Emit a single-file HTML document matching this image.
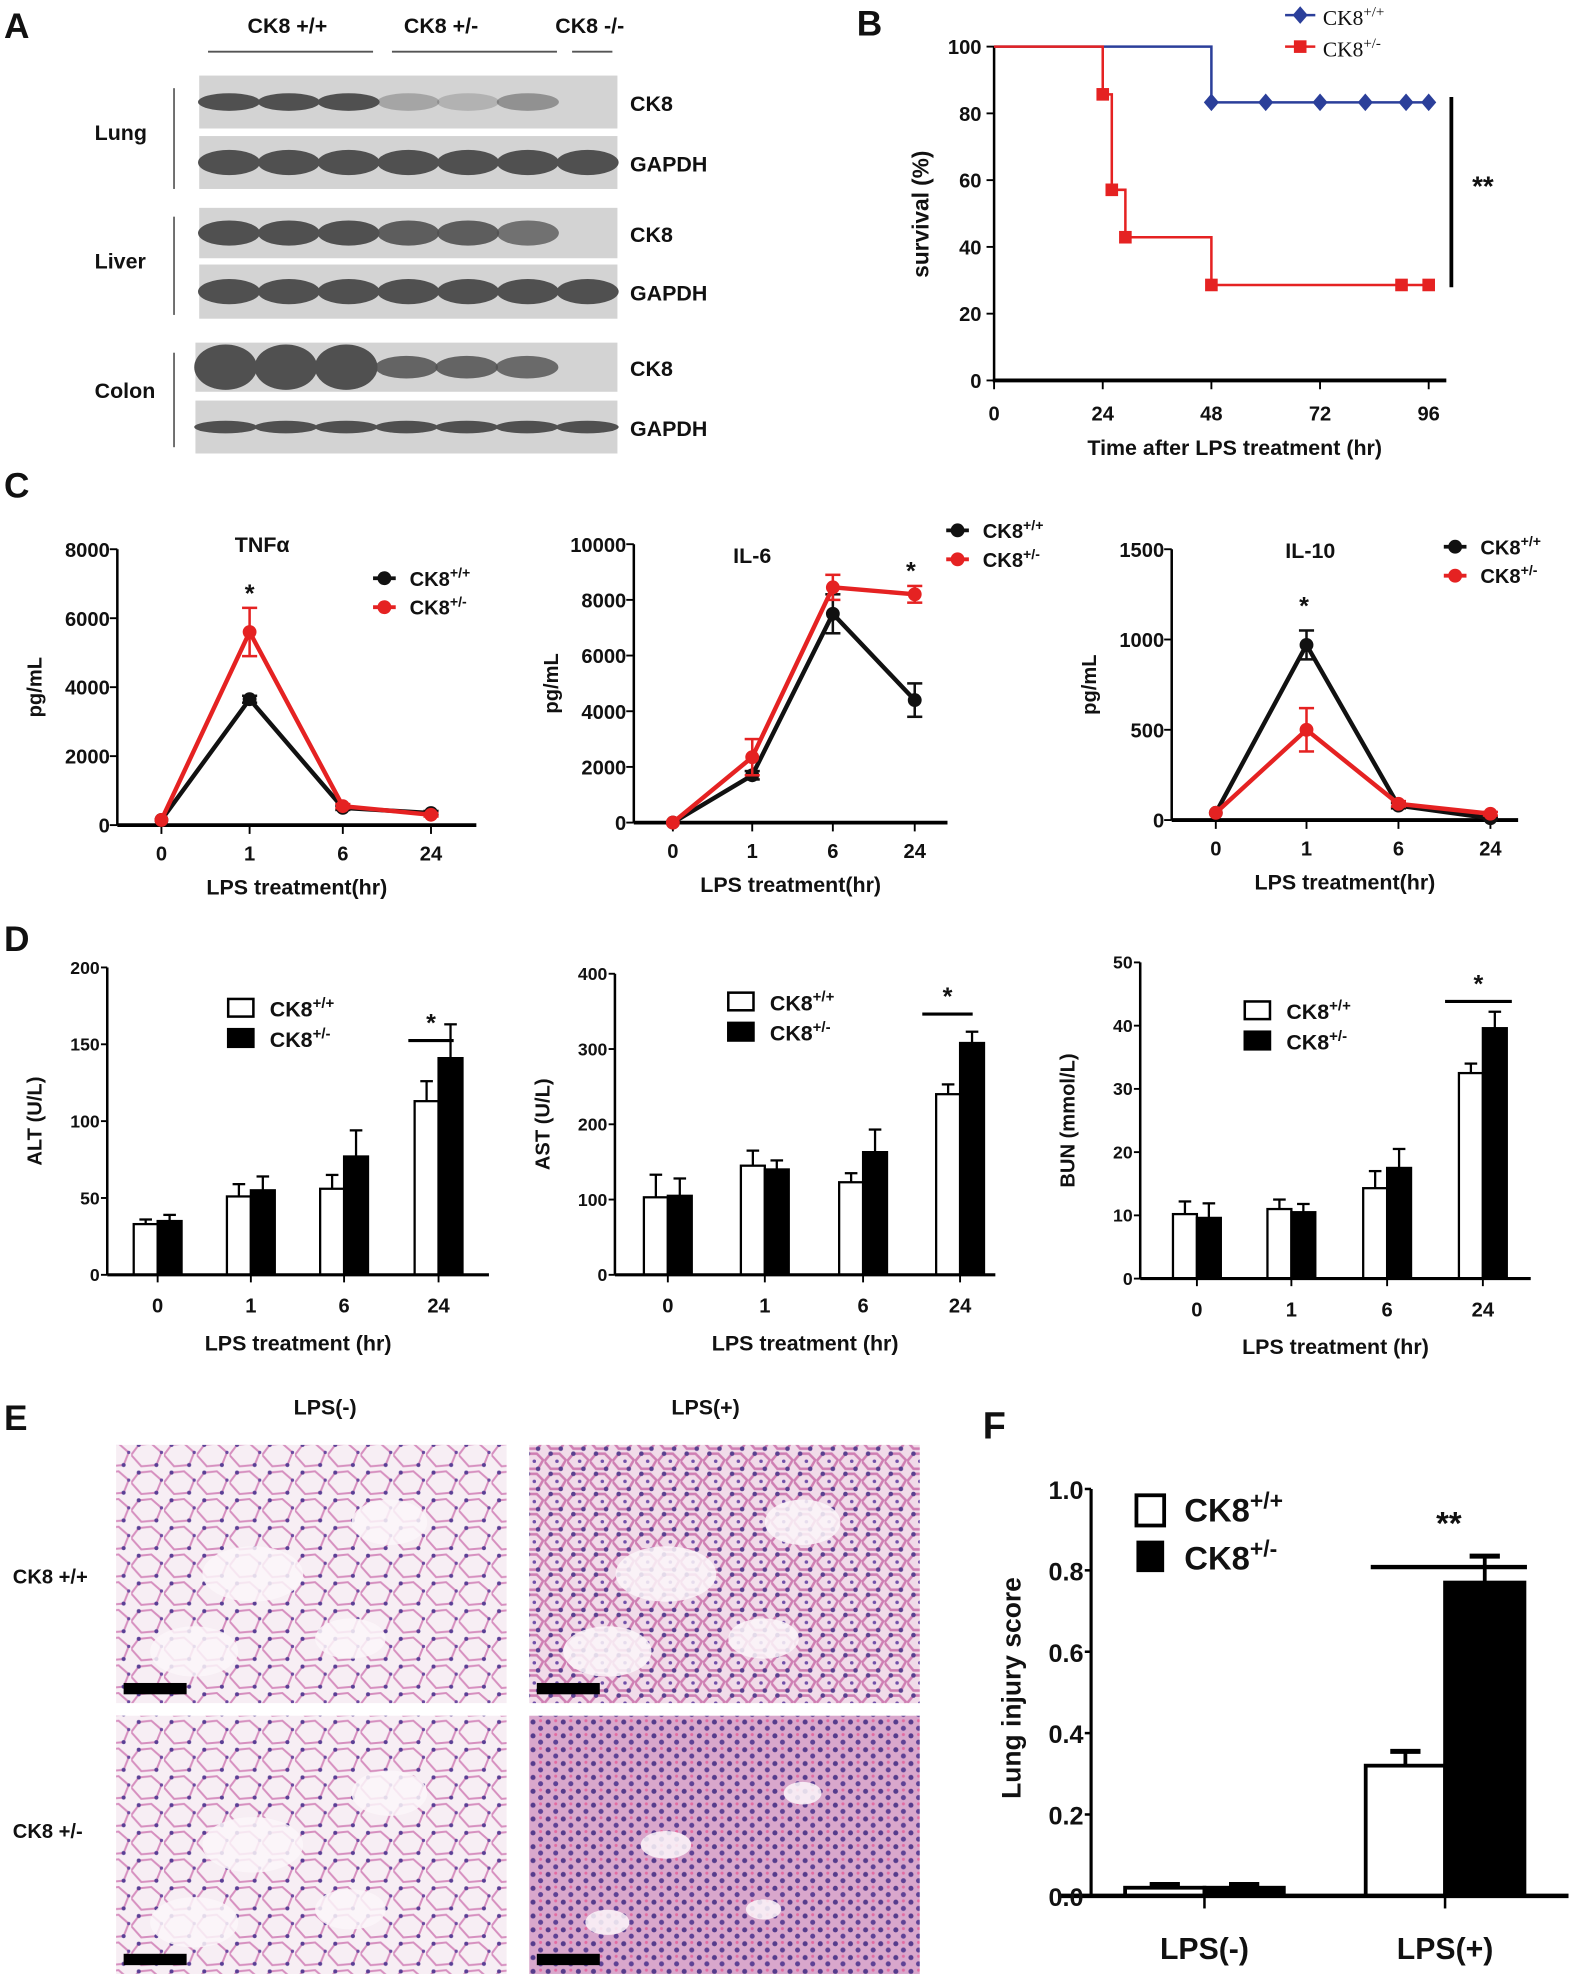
<!DOCTYPE html>
<html><head><meta charset="utf-8"><style>
html,body{margin:0;padding:0;background:#fff}
svg{display:block}
text{font-family:"Liberation Sans",Arial,sans-serif;font-weight:bold;fill:#111}
</style></head><body>
<svg id="fig" width="1575" height="1979" viewBox="0 0 1250 1571" xmlns="http://www.w3.org/2000/svg">
<defs>
<pattern id="histoA" width="26" height="22" patternUnits="userSpaceOnUse">
<rect width="26" height="22" fill="#f7eef4"/>
<path d="M0 11 L6 3 L16 2 L24 9 L20 19 L8 20 Z" fill="none" stroke="#d68fbf" stroke-width="1.6"/>
<circle cx="6" cy="3" r="1.6" fill="#5a3f95"/><circle cx="20" cy="19" r="1.6" fill="#5a3f95"/><circle cx="24" cy="9" r="1.3" fill="#6b4aa0"/>
</pattern>
<pattern id="histoB" width="18" height="16" patternUnits="userSpaceOnUse">
<rect width="18" height="16" fill="#f1dbe9"/>
<path d="M0 8 L5 2 L12 2 L17 7 L13 14 L5 14 Z" fill="none" stroke="#cf7fb3" stroke-width="2"/>
<circle cx="5" cy="2" r="1.8" fill="#58408f"/><circle cx="13" cy="14" r="1.8" fill="#58408f"/><circle cx="10" cy="8" r="1.4" fill="#7050a8"/>
</pattern>
<pattern id="histoC" width="12" height="11" patternUnits="userSpaceOnUse">
<rect width="12" height="11" fill="#d9a7cc"/>
<circle cx="3" cy="3" r="2" fill="#563c8c"/><circle cx="9" cy="8" r="2" fill="#5e4295"/><circle cx="9" cy="2" r="1.2" fill="#e36aa0"/>
</pattern>
</defs>
</svg>
<script>
const NS='http://www.w3.org/2000/svg';
const svg=document.getElementById('fig');
function el(tag,attrs,parent){const e=document.createElementNS(NS,tag);for(const k in attrs)e.setAttribute(k,attrs[k]);(parent||svg).appendChild(e);return e;}
function txt(x,y,s,size,anchor,parent,extra){const t=el('text',Object.assign({x:x,y:y,'font-size':size,'text-anchor':anchor||'start'},extra||{}),parent);t.textContent=s;return t;}
function ck8(x,y,sup,size,anchor,parent,fam){const t=el('text',{x:x,y:y,'font-size':size,'text-anchor':anchor||'start'},parent);if(fam)t.setAttribute('style','font-family:"Liberation Serif",serif;font-weight:normal');t.appendChild(document.createTextNode('CK8'));const s=el('tspan',{'font-size':size*0.7,dy:-size*0.4},t);s.textContent=sup;return t;}
function grp(name){const g=el('g',{});return g;}

/* ---------- Panel A (western blot) ---------- */
const gA=grp('panel-a-western-blot');
txt(3,30,'A',28,'start',gA);
[['+/+',228],['+/-',350],['-/-',468]].forEach(([s,x])=>{const t=el('text',{x:x,y:26,'font-size':17,'text-anchor':'middle'},gA);t.textContent='CK8 '+s;});
[[165,296],[311,442],[454,486]].forEach(([a,b])=>el('line',{x1:a,x2:b,y1:41,y2:41,stroke:'#555','stroke-width':1.5},gA));
const blots=[[158,60,102,'CK8'],[158,108,150,'GAPDH'],[158,165,205,'CK8'],[158,210,253,'GAPDH'],[155,272,311,'CK8'],[155,318,360,'GAPDH']];
const bandsCK8=[[1,1,1,.35,.25,.5,0],[1,1,1,.9,.9,.75,0],[1,1,1,.85,.85,.8,0]];
blots.forEach(([x0,y0,y1,lab],i)=>{
 const g=el('g',{},gA);
 el('rect',{x:x0,y:y0,width:490-x0,height:y1-y0,fill:'#d3d3d3'},g);
 const isCK=lab==='CK8';const lane=(490-x0)/7;
 for(let k=0;k<7;k++){
  let a=isCK?bandsCK8[Math.floor(i/2)][k]:1;
  if(a<=0)continue;
  const h=isCK?(i===4?(k<3?36:18):(i===2?20:14)):(i===5?10:20);
  el('ellipse',{cx:x0+lane*(k+.5),cy:(y0+y1)/2,rx:lane*0.52,ry:h/2,fill:'#505050','fill-opacity':a},g);
 }
 txt(500,(y0+y1)/2+7,lab,17,'start',gA);
});
[['Lung',105,70,150],['Liver',207,172,250],['Colon',310,280,355]].forEach(([n,y,a,b])=>{txt(75,y+6,n,17,'start',gA);el('line',{x1:138,x2:138,y1:a,y2:b,stroke:'#444','stroke-width':1.2},gA);});

/* ---------- Panel B (survival) ---------- */
const survBlueT=[0,48,48,96];const survBlueV=[100,100,83.3,83.3];
const survBlueMarkT=[48,60,72,82,91,96];
const survRedT=[0,24,24,26,26,29,29,48,48,96];const survRedV=[100,100,85.7,85.7,57.1,57.1,42.9,42.9,28.6,28.6];
const survRedMarkT=[24,26,29,48,90,96];const survRedMarkV=[85.7,57.1,42.9,28.6,28.6,28.6];
const survTicksX=[0,24,48,72,96];const survTicksY=[0,20,40,60,80,100];
(function(){
 const g=grp('panel-b-survival-chart');
 const X=t=>789+t*(1134-789)/96, Y=v=>302-v*(302-37)/100;
 txt(680,28,'B',28,'start',g);
 el('line',{x1:789,y1:37,x2:789,y2:303,stroke:'#000','stroke-width':2},g);
 el('line',{x1:788,y1:302,x2:1148,y2:302,stroke:'#000','stroke-width':3},g);
 survTicksY.forEach(v=>{el('line',{x1:783,x2:789,y1:Y(v),y2:Y(v),stroke:'#000','stroke-width':1.5},g);txt(779,Y(v)+6,String(v),16,'end',g);});
 survTicksX.forEach(t=>{el('line',{x1:X(t),x2:X(t),y1:302,y2:309,stroke:'#000','stroke-width':1.5},g);txt(X(t),334,String(t),16,'middle',g);});
 txt(980,361,'Time after LPS treatment (hr)',17,'middle',g);
 txt(737,170,'survival (%)',18,'middle',g,{transform:'rotate(-90 737 170)'});
 const pb=survBlueT.map((t,i)=>X(t)+','+Y(survBlueV[i])).join(' ');
 const lb=el('polyline',{points:pb,fill:'none',stroke:'#2b3f9a','stroke-width':2},g);
 survBlueMarkT.forEach(t=>{const m=el('path',{d:`M${X(t)} ${Y(83.3)-7} l6 7 l-6 7 l-6 -7z`,fill:'#2b3f9a'},g);});
 const pr=survRedT.map((t,i)=>X(t)+','+Y(survRedV[i])).join(' ');
 const lr=el('polyline',{points:pr,fill:'none',stroke:'#e52222','stroke-width':2},g);
 survRedMarkT.forEach((t,i)=>{const m=el('rect',{x:X(t)-5,y:Y(survRedMarkV[i])-5,width:10,height:10,fill:'#e52222'},g);});
 el('line',{x1:1152,x2:1152,y1:77,y2:228,stroke:'#000','stroke-width':3},g);
 txt(1177,155,'**',22,'middle',g);
 const lg=el('g',{},g);
 el('line',{x1:1020,x2:1044,y1:12,y2:12,stroke:'#2b3f9a','stroke-width':2},lg);
 el('path',{d:'M1032 5 l6 7 l-6 7 l-6 -7z',fill:'#2b3f9a'},lg);
 ck8(1050,20,'+/+',17,'start',lg,true);
 el('line',{x1:1020,x2:1044,y1:37,y2:37,stroke:'#e52222','stroke-width':2},lg);
 el('rect',{x:1027,y:32,width:10,height:10,fill:'#e52222'},lg);
 ck8(1050,45,'+/-',17,'start',lg,true);
})();

/* ---------- Panel C (cytokine line charts) ---------- */
const cCats=['0','1','6','24'];
const tnfWT=[150,3650,500,350];const tnfWTerr=[0,100,60,60];
const tnfHET=[150,5600,550,300];const tnfHETerr=[0,700,60,50];
const il6WT=[0,1700,7500,4400];const il6WTerr=[0,150,700,600];
const il6HET=[0,2350,8450,8200];const il6HETerr=[0,650,450,300];
const il10WT=[40,970,80,10];const il10WTerr=[0,80,15,5];
const il10HET=[40,500,90,35];const il10HETerr=[0,120,15,10];
function lineChart(o){
 const g=grp(o.name);
 const Y=v=>o.y0-(v/o.max)*(o.y0-o.y1);
 el('line',{x1:o.ax,x2:o.ax,y1:o.y1,y2:o.y0,stroke:'#000','stroke-width':2},g);
 el('line',{x1:o.ax,x2:o.xend,y1:o.y0,y2:o.y0,stroke:'#000','stroke-width':3},g);
 o.yt.forEach(v=>{el('line',{x1:o.ax-6,x2:o.ax,y1:Y(v),y2:Y(v),stroke:'#000','stroke-width':1.5},g);txt(o.ax-6,Y(v)+6,String(v),16,'end',g);});
 o.xs.forEach((x,i)=>{el('line',{x1:x,x2:x,y1:o.y0,y2:o.y0+7,stroke:'#000','stroke-width':1.5},g);txt(x,o.y0+28,cCats[i],16,'middle',g);});
 txt(o.tx,o.ty,o.title,17,'middle',g);
 txt((o.ax+o.xend)/2,o.y0+55,'LPS treatment(hr)',17,'middle',g);
 txt(o.ax-60,(o.y0+o.y1)/2,'pg/mL',16,'middle',g,{transform:`rotate(-90 ${o.ax-60} ${(o.y0+o.y1)/2})`});
 [[o.wt,o.wte,'#111','wt'],[o.het,o.hete,'#e52222','het']].forEach(([d,e,c,n])=>{
  const s=el('g',{},g);
  d.forEach((v,i)=>{if(e[i]>0){const x=o.xs[i];el('line',{x1:x,x2:x,y1:Y(v-e[i]),y2:Y(v+e[i]),stroke:c,'stroke-width':2},s);el('line',{x1:x-6,x2:x+6,y1:Y(v+e[i]),y2:Y(v+e[i]),stroke:c,'stroke-width':2},s);el('line',{x1:x-6,x2:x+6,y1:Y(v-e[i]),y2:Y(v-e[i]),stroke:c,'stroke-width':2},s);}});
  el('polyline',{points:d.map((v,i)=>o.xs[i]+','+Y(v)).join(' '),fill:'none',stroke:c,'stroke-width':3.5},s);
  d.forEach((v,i)=>{const p=el('circle',{cx:o.xs[i],cy:Y(v),r:5.5,fill:c},s);});
 });
 txt(o.star[0],o.star[1],'*',20,'middle',g);
 const lg=el('g',{},g);
 [[o.leg[1],'#111','+/+'],[o.leg[1]+23,'#e52222','+/-']].forEach(([y,c,s])=>{el('line',{x1:o.leg[0]-9,x2:o.leg[0]+9,y1:y,y2:y,stroke:c,'stroke-width':3},lg);el('circle',{cx:o.leg[0],cy:y,r:5.5,fill:c},lg);ck8(o.leg[0]+20,y+6,s,16,'start',lg);});
}
txt(3,395,'C',28,'start');
lineChart({name:'chart-tnf-alpha',ax:93,xend:378,y0:655,y1:436,max:8000,yt:[0,2000,4000,6000,8000],xs:[128,198,272,342],title:'TNFα',tx:208,ty:438,wt:tnfWT,wte:tnfWTerr,het:tnfHET,hete:tnfHETerr,star:[198,478],leg:[305,459]});
lineChart({name:'chart-il6',ax:503,xend:752,y0:653,y1:432,max:10000,yt:[0,2000,4000,6000,8000,10000],xs:[534,597,661,726],title:'IL-6',tx:597,ty:447,wt:il6WT,wte:il6WTerr,het:il6HET,hete:il6HETerr,star:[723,460],leg:[760,421]});
lineChart({name:'chart-il10',ax:930,xend:1205,y0:651,y1:436,max:1500,yt:[0,500,1000,1500],xs:[965,1037,1110,1183],title:'IL-10',tx:1040,ty:443,wt:il10WT,wte:il10WTerr,het:il10HET,hete:il10HETerr,star:[1035,488],leg:[1155,434]});

/* ---------- Panel D (bar charts) ---------- */
const dCats=['0','1','6','24'];
const altWT=[33,51,56,113];const altWTerr=[3,8,9,13];const altHET=[35,55,77,141];const altHETerr=[4,9,17,22];
const astWT=[103,145,123,240];const astWTerr=[30,20,12,13];const astHET=[105,140,163,308];const astHETerr=[23,12,30,15];
const bunWT=[10.2,11,14.3,32.5];const bunWTerr=[2,1.5,2.7,1.5];const bunHET=[9.6,10.5,17.5,39.6];const bunHETerr=[2.3,1.3,3,2.6];
function barChart(o){
 const g=grp(o.name);
 const Y=v=>o.y0-(v/o.max)*(o.y0-o.y1);const bw=o.bw||19;
 o.xs.forEach((x,i)=>{
  [[o.wt,o.wte,'#fff',-1,'wt'],[o.het,o.hete,'#000',0,'het']].forEach(([d,e,c,off,n])=>{
   const bx=x+off*bw, top=Y(d[i]);
   const cx=bx+bw/2;
   el('line',{x1:cx,x2:cx,y1:top,y2:Y(d[i]+e[i]),stroke:'#000','stroke-width':1.8},g);
   el('line',{x1:cx-5,x2:cx+5,y1:Y(d[i]+e[i]),y2:Y(d[i]+e[i]),stroke:'#000','stroke-width':1.8},g);
   const r=el('rect',{x:bx,y:top,width:bw,height:o.y0-top,fill:c,stroke:'#000','stroke-width':1.8},g);
   
  });
 });
 el('line',{x1:o.ax,x2:o.ax,y1:o.y1,y2:o.y0,stroke:'#000','stroke-width':2},g);
 el('line',{x1:o.ax,x2:o.xend,y1:o.y0,y2:o.y0,stroke:'#000','stroke-width':2.5},g);
 o.yt.forEach(v=>{el('line',{x1:o.ax-5,x2:o.ax,y1:Y(v),y2:Y(v),stroke:'#000','stroke-width':1.5},g);txt(o.ax-6,Y(v)+5,String(v),14,'end',g);});
 o.xs.forEach((x,i)=>{el('line',{x1:x,x2:x,y1:o.y0,y2:o.y0+6,stroke:'#000','stroke-width':1.5},g);txt(x,o.y0+30,dCats[i],16,'middle',g);});
 txt((o.ax+o.xend)/2,o.y0+60,'LPS treatment (hr)',17,'middle',g);
 txt(o.ax-52,(o.y0+o.y1)/2,o.ylab,16,'middle',g,{transform:`rotate(-90 ${o.ax-52} ${(o.y0+o.y1)/2})`});
 el('line',{x1:o.sig[0],x2:o.sig[1],y1:o.sig[2],y2:o.sig[2],stroke:'#000','stroke-width':2.5},g);
 txt((o.sig[0]+o.sig[1])/2,o.sig[2]-7,'*',20,'middle',g);
 const lg=el('g',{},g);
 el('rect',{x:o.leg[0],y:o.leg[1]-7,width:20,height:14,fill:'#fff',stroke:'#000','stroke-width':2},lg);
 ck8(o.leg[0]+33,o.leg[1]+7,'+/+',17,'start',lg);
 el('rect',{x:o.leg[0],y:o.leg[1]+17,width:20,height:14,fill:'#000',stroke:'#000','stroke-width':2},lg);
 ck8(o.leg[0]+33,o.leg[1]+31,'+/-',17,'start',lg);
}
txt(3,755,'D',28,'start');
barChart({name:'chart-alt',ax:85,xend:388,y0:1012,y1:768,max:200,yt:[0,50,100,150,200],xs:[125,199,273,348],wt:altWT,wte:altWTerr,het:altHET,hete:altHETerr,ylab:'ALT (U/L)',sig:[324,360,826],leg:[181,800]});
barChart({name:'chart-ast',ax:488,xend:790,y0:1012,y1:773,max:400,yt:[0,100,200,300,400],xs:[530,607,685,762],wt:astWT,wte:astWTerr,het:astHET,hete:astHETerr,ylab:'AST (U/L)',sig:[732,772,805],leg:[578,795]});
barChart({name:'chart-bun',ax:905,xend:1215,y0:1015,y1:764,max:50,yt:[0,10,20,30,40,50],xs:[950,1025,1101,1177],wt:bunWT,wte:bunWTerr,het:bunHET,hete:bunHETerr,ylab:'BUN (mmol/L)',sig:[1147,1200,795],leg:[988,802]});

/* ---------- Panel E (histology) ---------- */
(function(){
 const g=grp('panel-e-histology');
 txt(3,1135,'E',28,'start',g);
 txt(258,1123,'LPS(-)',17,'middle',g);txt(560,1123,'LPS(+)',17,'middle',g);
 txt(10,1257,'CK8 +/+',16,'start',g);txt(10,1459,'CK8 +/-',16,'start',g);
 [[92,1147,'histoA','wt-lps-neg'],[420,1147,'histoB','wt-lps-pos'],[92,1362,'histoA','het-lps-neg'],[420,1362,'histoC','het-lps-pos']].forEach(([x,y,p,n])=>{
  const r=el('rect',{x:x,y:y,width:310,height:205,fill:`url(#${p})`},g);
  // alveolar air spaces
  [[0.35,0.5,40,22],[0.7,0.3,30,18],[0.2,0.8,35,20],[0.6,0.75,28,16]].forEach(([fx,fy,rx,ry])=>el('ellipse',{cx:x+310*fx,cy:y+205*fy,rx:p==='histoC'?rx*0.5:rx,ry:p==='histoC'?ry*0.5:ry,fill:'#fbf6f9','fill-opacity':0.85},g));
  el('rect',{x:x+6,y:y+189,width:50,height:9,fill:'#000'},g);
 });
})();

/* ---------- Panel F (lung injury score) ---------- */
const fCats=['LPS(-)','LPS(+)'];
const injWT=[0.02,0.32];const injWTerr=[0.008,0.035];
const injHET=[0.02,0.77];const injHETerr=[0.008,0.065];
const fTicks=[0,0.2,0.4,0.6,0.8,1.0];
(function(){
 const g=grp('panel-f-lung-injury-chart');
 txt(780,1142,'F',30,'start',g);
 const ax=866,y0=1505,y1=1182,xend=1245,xs=[956,1147],bw=63;
 const Y=v=>y0-(v/1.0)*(y0-y1);
 xs.forEach((x,i)=>{
  [[injWT,injWTerr,'#fff',-1,'wt'],[injHET,injHETerr,'#000',0,'het']].forEach(([d,e,c,off,n])=>{
   const bx=x+off*bw,top=Y(d[i]),cx=bx+bw/2;
   el('line',{x1:cx,x2:cx,y1:top,y2:Y(d[i]+e[i]),stroke:'#000','stroke-width':3},g);
   el('line',{x1:cx-12,x2:cx+12,y1:Y(d[i]+e[i]),y2:Y(d[i]+e[i]),stroke:'#000','stroke-width':4},g);
   const r=el('rect',{x:bx,y:top,width:bw,height:y0-top,fill:c,stroke:'#000','stroke-width':3},g);
   
  });
 });
 el('line',{x1:ax,x2:ax,y1:y1,y2:y0,stroke:'#000','stroke-width':2.5},g);
 el('line',{x1:ax-25,x2:xend,y1:y0,y2:y0,stroke:'#000','stroke-width':3.5},g);
 fTicks.forEach(v=>{el('line',{x1:ax-5,x2:ax,y1:Y(v),y2:Y(v),stroke:'#000','stroke-width':2},g);txt(ax-6,Y(v)+8,v.toFixed(1),20,'end',g);});
 xs.forEach((x,i)=>{el('line',{x1:x,x2:x,y1:y0,y2:y0+10,stroke:'#000','stroke-width':2},g);txt(x,y0+50,fCats[i],24,'middle',g);});
 txt(810,1340,'Lung injury score',21,'middle',g,{transform:'rotate(-90 810 1340)'});
 el('line',{x1:1088,x2:1212,y1:1244,y2:1244,stroke:'#000','stroke-width':3.5},g);
 txt(1150,1218,'**',26,'middle',g);
 const lg=el('g',{},g);
 el('rect',{x:902,y:1187,width:22,height:24,fill:'#fff',stroke:'#000','stroke-width':3},lg);
 ck8(940,1208,'+/+',26,'start',lg);
 el('rect',{x:902,y:1223,width:22,height:25,fill:'#000'},lg);
 ck8(940,1246,'+/-',26,'start',lg);
})();
</script>
</body></html>
